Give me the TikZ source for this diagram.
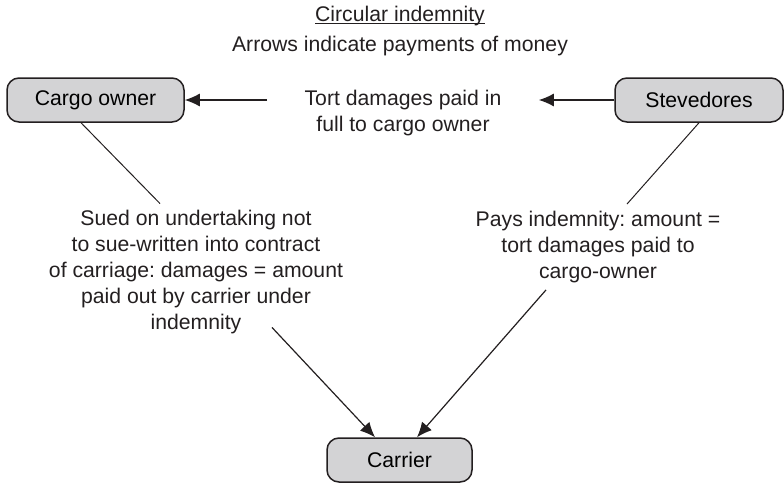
\documentclass[tikz,border=0pt]{standalone}
\usepackage{fontspec}
\setmainfont{Liberation Sans}
\usepackage{xcolor}
\usepackage{tikz}
\usetikzlibrary{shapes,arrows.meta}
\frenchspacing
\definecolor{boxgray}{RGB}{211,211,213}
\definecolor{ink}{RGB}{35,31,32}
\tikzstyle{party} = [rectangle, draw=ink, fill=boxgray, line width=0.75pt,
    text centered, rounded corners=6pt, minimum height=22pt]
\tikzstyle{note} = [align=center, text=ink]
\tikzstyle{heading} = [text=ink]
\tikzstyle{link} = [draw=ink, line width=0.5pt]
\tikzstyle{line} = [draw=ink, line width=0.6pt, -{Latex[length=7.5pt,width=6.5pt]}]

\begin{document}
\begin{tikzpicture}[x=0.5pt, y=-0.5pt,
    every node/.style={font=\fontsize{10.6}{13}\selectfont}]
  \useasboundingbox (0,0) rectangle (784,483);
  % Titles
  \node [heading] (title) at (400,23) {\underline{\smash{Circular indemnity}}};
  \node [heading] (legend) at (400,46) {Arrows indicate payments of money};
  % Place nodes
  \node [party, minimum width=88.5pt] (cargo) at (95.5,100) {Cargo owner};
  \node [party, minimum width=84pt] (stev) at (699,100) {Stevedores};
  \node [party, minimum width=72.5pt] (carrier) at (399.5,460) {Carrier};
  \node [note, inner xsep=18.5pt] (tort) at (403,113)
    {Tort damages paid in\\full to cargo owner};
  \node [note] (sued) at (196,272.5)
    {Sued on undertaking not\\to sue-written into contract\\of carriage: damages = amount\\paid out by carrier under\\indemnity};
  \node [note] (pays) at (598,247)
    {Pays indemnity: amount =\\tort damages paid to\\cargo-owner};
  % Draw edges
  \path [line] (cargo -| tort.west) -- (cargo);
  \path [line] (stev) -- (stev -| tort.east);
  \path [link] ([xshift=-7.25pt]cargo.south) -- ([xshift=-18pt]sued.north);
  \path [link] (stev.south) -- ([xshift=14.5pt]pays.north);
  \path [line] ([xshift=38pt,yshift=7pt]sued.south) -- ([xshift=-12.25pt]carrier.north);
  \path [line] ([xshift=-26pt]pays.south) -- ([xshift=8.75pt]carrier.north);
\end{tikzpicture}
\end{document}
